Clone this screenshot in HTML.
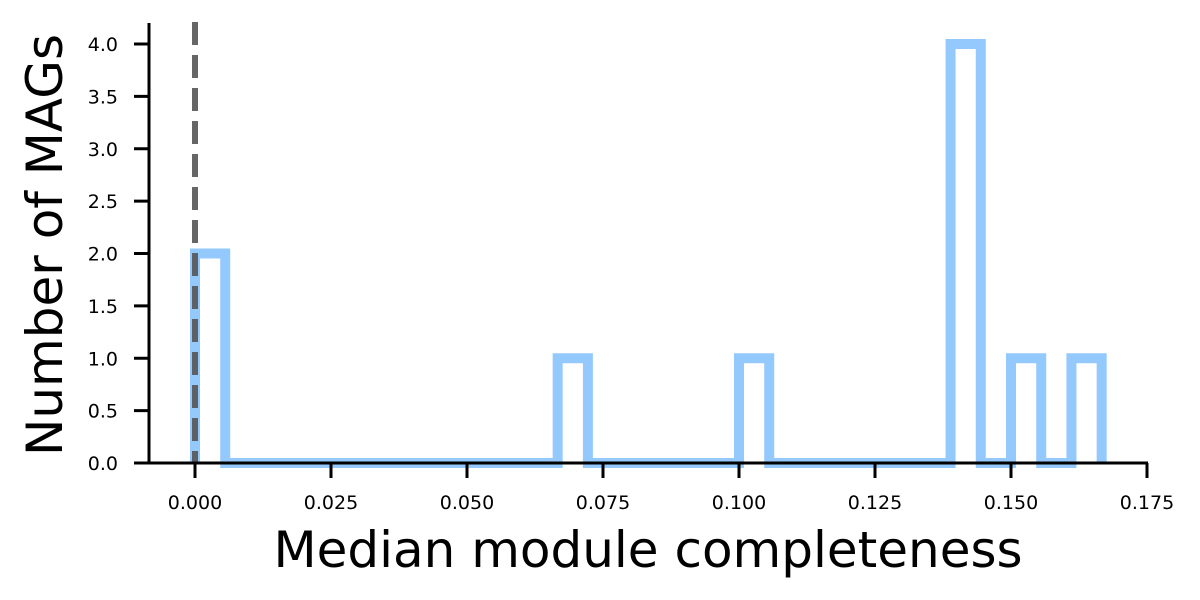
<!DOCTYPE html>
<html><head><meta charset="utf-8"><style>
body{margin:0;background:#fff;}
svg{display:block;font-family:"DejaVu Sans","Liberation Sans",sans-serif;}
</style></head><body>
<svg id="chart" width="1200" height="600">
<g id="g"></g>
</svg>
<script>
const binEdgesStart = 0;
const binCount = 30;
const dataMax = 1/6;
const binCounts = [2,0,0,0,0,0,0,0,0,0,0,0,1,0,0,0,0,0,1,0,0,0,0,0,0,4,0,1,0,1];
const xTicks = [0,0.025,0.05,0.075,0.1,0.125,0.15,0.175];
const xTickLabels = ["0.000","0.025","0.050","0.075","0.100","0.125","0.150","0.175"];
const yTicks = [0,0.5,1,1.5,2,2.5,3,3.5,4];
const yTickLabels = ["0.0","0.5","1.0","1.5","2.0","2.5","3.0","3.5","4.0"];
const refLine = [0];

const NS="http://www.w3.org/2000/svg";
const g=document.getElementById('g');
const x0=195, pxPerUnit=136/0.025, y0=463, pxPerCount=104.75;
const X=v=>x0+v*pxPerUnit, Y=v=>y0-v*pxPerCount;
function mk(t,a){const e=document.createElementNS(NS,t);for(const k in a)e.setAttribute(k,a[k]);g.appendChild(e);return e;}

const w=(dataMax-binEdgesStart)/binCount;
let d=`M${X(binEdgesStart)},${Y(0)}`;
binCounts.forEach((c,i)=>{const a=binEdgesStart+i*w,b=a+w;d+=` L${X(a)},${Y(c)} L${X(b)},${Y(c)}`;});
d+=` L${X(dataMax)},${Y(0)}`;
const hist=mk('path',{d:d,fill:'none',stroke:'#93c9fd',"stroke-width":10,"stroke-linejoin":"miter"});



refLine.forEach(v=>{const l=mk('line',{x1:X(v),x2:X(v),y1:22,y2:463,stroke:'#555',"stroke-opacity":0.9,"stroke-width":6,"stroke-dasharray":"23,10"});

});

const ls=mk('line',{x1:149,x2:149,y1:Y(4.2),y2:464,stroke:'#000',"stroke-width":3});


const bs=mk('line',{x1:148,x2:1148,y1:463,y2:463,stroke:'#000',"stroke-width":3});



xTicks.forEach((v,i)=>{mk('line',{x1:X(v),x2:X(v),y1:463,y2:478,stroke:'#000',"stroke-width":3});
const t=mk('text',{x:X(v),y:509,"font-size":19,"text-anchor":"middle"});t.textContent=xTickLabels[i];

});
yTicks.forEach((v,i)=>{mk('line',{x1:134,x2:149,y1:Y(v),y2:Y(v),stroke:'#000',"stroke-width":3});
const t=mk('text',{x:118,y:Y(v)+7,"font-size":19,"text-anchor":"end"});t.textContent=yTickLabels[i];

});

const xt=mk('text',{x:648,y:567,"font-size":50,"text-anchor":"middle"});xt.textContent="Median module completeness";


const yt=mk('text',{x:0,y:0,"font-size":50,"text-anchor":"middle",transform:"translate(62,245) rotate(-90)"});yt.textContent="Number of MAGs";


</script>
</body></html>
